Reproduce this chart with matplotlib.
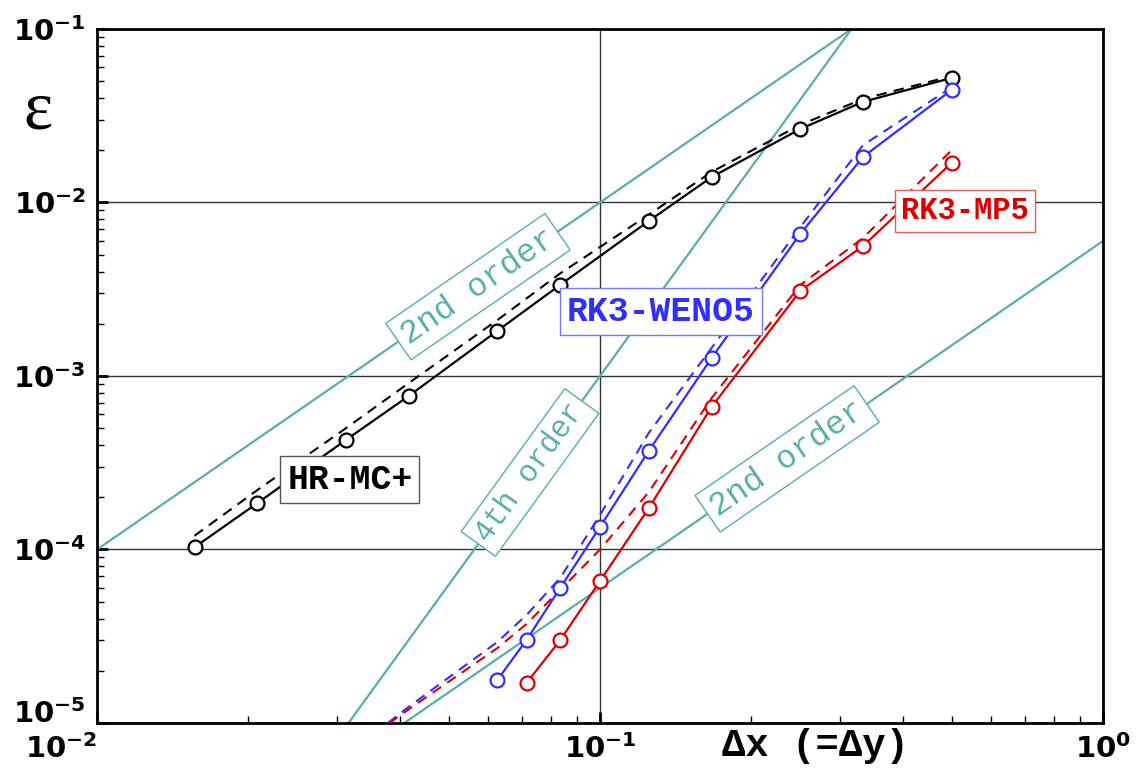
import numpy as np
import matplotlib
matplotlib.use('Agg')
import matplotlib.pyplot as plt
from matplotlib.ticker import FuncFormatter

# grid spacings (dx = dy) of each run
dx_hr = [1/64, 1/48, 1/32, 1/24, 1/16, 1/12, 1/8, 1/6, 1/4, 1/3, 1/2]
err_hr = [1.03e-4, 1.85e-4, 4.28e-4, 7.67e-4, 1.82e-3, 3.35e-3, 7.82e-3, 1.40e-2, 2.65e-2, 3.80e-2, 5.22e-2]
err_hr_dash = [1.2e-4, 2.2e-4, 5.0e-4, 9.1e-4, 2.1e-3, 3.9e-3, 8.5e-3, 1.5e-2, 2.8e-2, 3.95e-2, 5.35e-2]

dx_weno = [1/16, 1/14, 1/12, 1/10, 1/8, 1/6, 1/4, 1/3, 1/2]
err_weno = [1.77e-5, 3.01e-5, 6.0e-5, 1.35e-4, 3.70e-4, 1.27e-3, 6.58e-3, 1.83e-2, 4.45e-2]

dx_mp5 = [1/14, 1/12, 1/10, 1/8, 1/6, 1/4, 1/3, 1/2]
err_mp5 = [1.70e-5, 3.0e-5, 6.58e-5, 1.73e-4, 6.63e-4, 3.09e-3, 5.61e-3, 1.69e-2]

# dashed curves (no markers)
dx_dash = [1/32, 1/24, 1/16, 1/14, 1/12, 1/10, 1/8, 1/6, 1/4, 1/3, 1/2]
err_weno_dash = [6.5e-6, 1.24e-5, 2.93e-5, 4.19e-5, 6.85e-5, 1.58e-4, 4.7e-4, 1.45e-3, 7.2e-3, 2.14e-2, 4.6e-2]
err_mp5_dash = [6.6e-6, 1.2e-5, 2.7e-5, 3.72e-5, 5.85e-5, 1.0e-4, 2.14e-4, 7.46e-4, 3.34e-3, 6.24e-3, 2.0e-2]

# reference slopes: err = coef * dx**order
ref_coef = [1.0, 10.0, 6e-3]
ref_order = [2, 4, 2]
ref_label_x = [0.0572, 0.0726, 0.2355]
ref_labels = ['2nd order', '4th order', '2nd order']

teal = '#5aaeaa'
blue = '#2f2fff'
red = '#dd0000'
mono = ['Liberation Mono', 'DejaVu Sans Mono']

fig = plt.figure(figsize=(11.39, 7.72), dpi=100)
ax = fig.add_axes([0.0852, 0.0635, 0.8832, 0.8990])
ax.set_xscale('log')
ax.set_yscale('log')
ax.set_xlim(1e-2, 1)
ax.set_ylim(1e-5, 1e-1)

xs = np.array([1e-2, 1.0])
for c, p in zip(ref_coef, ref_order):
    ax.plot(xs, c * xs**p, color=teal, lw=1.6, zorder=2)

mk = dict(marker='o', ms=10, mfc='white', mew=1.6)
ax.plot(dx_hr, err_hr_dash, color='black', lw=1.5, dashes=(5, 3.5), zorder=3)
ax.plot(dx_hr, err_hr, color='black', lw=1.6, zorder=4, **mk)
ax.plot(dx_dash, err_weno_dash, color=blue, lw=1.5, dashes=(5, 3.5), zorder=3)
ax.plot(dx_weno, err_weno, color=blue, lw=1.6, zorder=4, **mk)
ax.plot(dx_dash, err_mp5_dash, color=red, lw=1.5, dashes=(5, 3.5), zorder=3)
ax.plot(dx_mp5, err_mp5, color=red, lw=1.6, zorder=4, **mk)

# order labels, rotated along their lines
for c, p, xl, lab in zip(ref_coef, ref_order, ref_label_x, ref_labels):
    p0 = ax.transData.transform((xl, c * xl**p))
    p1 = ax.transData.transform((xl * 1.5, c * (xl * 1.5)**p))
    ang = np.degrees(np.arctan2(p1[1] - p0[1], p1[0] - p0[0]))
    fs = 22 if p == 4 else 24
    ax.text(xl, c * xl**p, lab, rotation=ang, rotation_mode='anchor',
            ha='center', va='center', color=teal, fontsize=fs, family=mono,
            zorder=6,
            bbox=dict(boxstyle='square,pad=0.2', fc='white', ec=teal, lw=1))

# scheme labels
box = dict(boxstyle='square,pad=0.2', fc='white', lw=1)
ax.text(0.0318, 2.52e-4, 'HR-MC+', color='black', fontsize=25, weight='bold',
        family=mono, ha='center', va='center', zorder=6, bbox=dict(box, ec='#555555'))
ax.text(0.1322, 2.34e-3, 'RK3-WENO5', color=blue, fontsize=25, weight='bold',
        family=mono, ha='center', va='center', zorder=6, bbox=dict(box, ec='#7777ff'))
ax.text(0.5316, 8.93e-3, 'RK3-MP5', color=red, fontsize=22, weight='bold',
        family=mono, ha='center', va='center', zorder=6, bbox=dict(box, ec='#e06060'))

ax.set_xticks([1e-2, 1e-1, 1])
ax.set_yticks([1e-5, 1e-4, 1e-3, 1e-2, 1e-1])
fmt = FuncFormatter(lambda v, pos: r'$\mathbf{10^{%d}}$' % round(np.log10(v)))
ax.xaxis.set_major_formatter(fmt)
ax.yaxis.set_major_formatter(fmt)
ax.tick_params(which='both', direction='in', top=False, right=False, labelsize=21)
ax.tick_params(which='major', length=8, width=2, pad=8)
ax.tick_params(which='minor', length=5, width=1)
ax.get_xticklabels()[0].set_ha('right')
ax.get_yticklabels()[0].set_va('baseline')
ax.grid(which='major', color='#333333', lw=1)
ax.set_axisbelow(True)
for s in ax.spines.values():
    s.set_linewidth(2)

fig.text(38 / 1139, 1 - 112 / 772, 'ε', fontsize=50, ha='center', va='center',
         family=['Liberation Serif', 'DejaVu Serif'])
fig.text(815 / 1139, 1 - 746 / 772, 'Δx (=Δy)', fontsize=28, weight='bold',
         family=mono, ha='center', va='center')

fig.savefig('out.png', dpi=100)
